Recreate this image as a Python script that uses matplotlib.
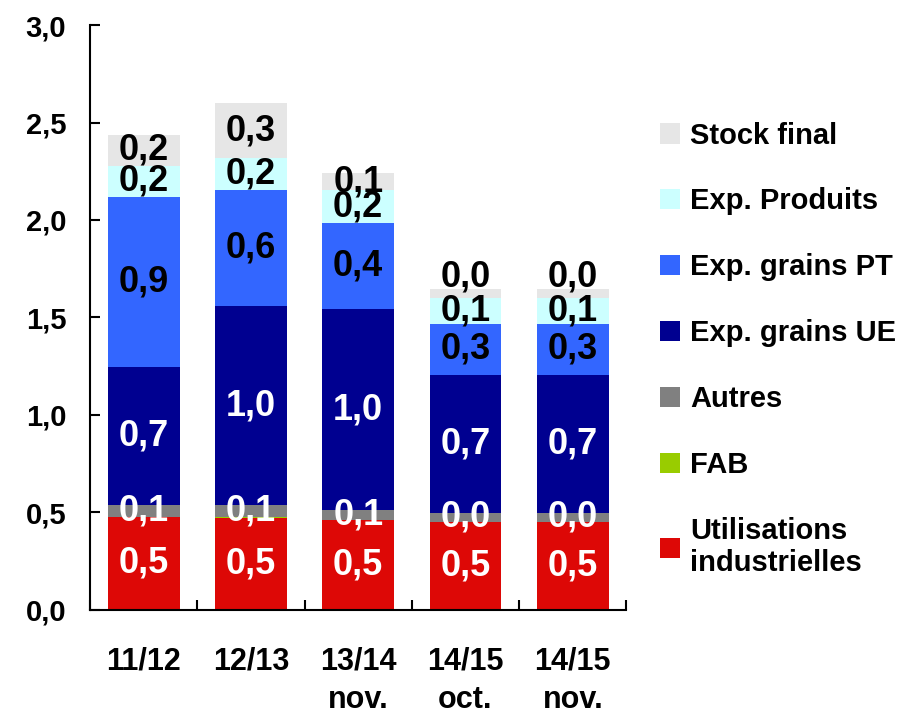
import matplotlib
matplotlib.use("Agg")
import matplotlib.pyplot as plt
import numpy as np

plt.rcParams['font.family'] = ['Liberation Sans', 'DejaVu Sans']
plt.rcParams['font.weight'] = 'bold'

# Data
campagnes = ["11/12", "12/13", "13/14\nnov.", "14/15\noct.", "14/15\nnov."]
util_indus = [0.476, 0.470, 0.460, 0.452, 0.452]
fab = [0.0, 0.004, 0.0, 0.0, 0.0]
autres = [0.062, 0.064, 0.052, 0.046, 0.046]
exp_ue = [0.710, 1.020, 1.030, 0.708, 0.708]
exp_pt = [0.870, 0.595, 0.440, 0.260, 0.260]
exp_produits = [0.160, 0.165, 0.170, 0.135, 0.135]
stock_final = [0.160, 0.280, 0.090, 0.046, 0.046]

series = [
    ("Utilisations\nindustrielles", util_indus, "#DD0806", "white"),
    ("FAB", fab, "#99CC00", None),
    ("Autres", autres, "#808080", "white"),
    ("Exp. grains UE", exp_ue, "#000090", "white"),
    ("Exp. grains PT", exp_pt, "#3366FF", "black"),
    ("Exp. Produits", exp_produits, "#CCFFFF", "black"),
    ("Stock final", stock_final, "#E6E6E6", "black"),
]

fig = plt.figure(figsize=(9, 7.15), dpi=100)
ax = fig.add_axes([0.1, 0.147, 0.596, 0.818])

x = np.arange(len(campagnes))
bottom = np.zeros(len(campagnes))
handles = []
for name, vals, color, txtcol in series:
    vals = np.array(vals)
    b = ax.bar(x, vals, width=0.67, bottom=bottom, color=color, label=name, linewidth=0)
    handles.append(b)
    if txtcol is not None:
        for xi, v, b0 in zip(x, vals, bottom):
            y = b0 + v / 2
            if name == "Stock final" and v < 0.06:
                y = b0 + v + 0.06
            ax.text(xi, y, f"{v:.1f}".replace(".", ","), ha="center", va="center",
                    color=txtcol, fontsize=26, fontweight="bold")
    bottom += vals

ax.set_xlim(-0.5, len(campagnes) - 0.5)
ax.set_ylim(0, 3.0)
ax.set_yticks(np.arange(0, 3.01, 0.5))
ax.set_yticklabels([f"{t:.1f}".replace(".", ",") for t in np.arange(0, 3.01, 0.5)])
ax.set_xticks(x)
ax.set_xticklabels(campagnes, linespacing=1.4, va="top")
ax.set_xticks(np.arange(-0.5, len(campagnes), 1), minor=True)
ax.tick_params(axis="x", which="major", length=0, pad=26, labelsize=22)
ax.tick_params(axis="x", which="minor", direction="in", length=7, width=1.5)
ax.tick_params(axis="y", direction="in", length=7, width=1.5, labelsize=21, pad=17)
for lab in ax.get_xticklabels() + ax.get_yticklabels():
    lab.set_fontweight("bold")
for s in ["top", "right"]:
    ax.spines[s].set_visible(False)
for s in ["left", "bottom"]:
    ax.spines[s].set_linewidth(1.5)

fig.legend(handles[::-1], [s[0] for s in series][::-1], loc="upper left",
           bbox_to_anchor=(0.733, 0.83), frameon=False, prop={"size": 21, "weight": "bold"},
           handlelength=0.7, handleheight=0.7, handletextpad=0.35, labelspacing=1.3,
           borderaxespad=0, borderpad=0)

fig.savefig("out.png", dpi=100)
